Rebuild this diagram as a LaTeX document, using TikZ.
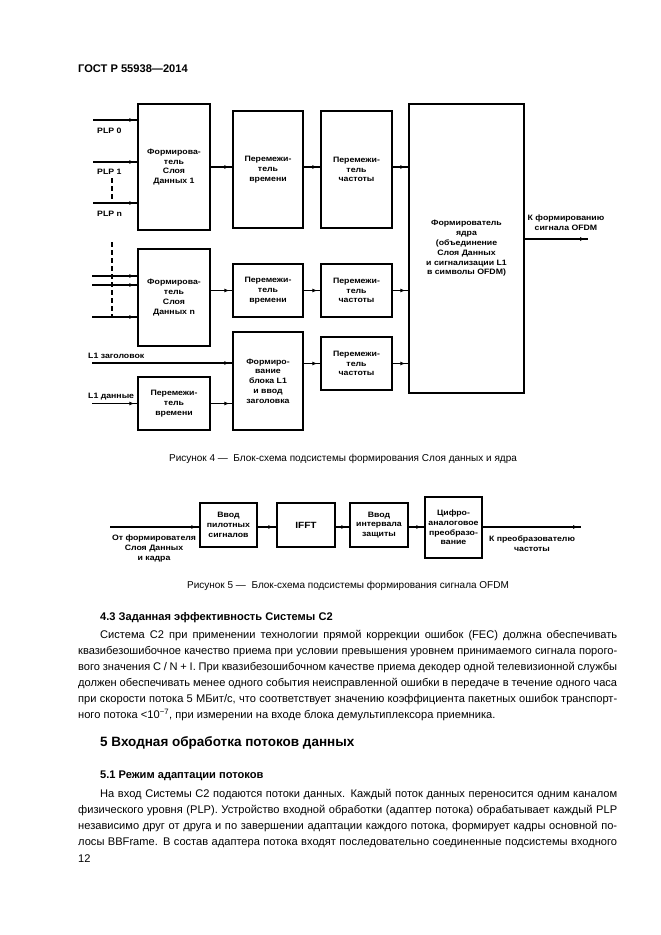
\documentclass[tikz,border=0pt]{standalone}
\usepackage{fontspec}
\setmainfont{Liberation Sans}
\newfontfamily\dg[FakeStretch=1.12]{Liberation Sans}
\usetikzlibrary{arrows.meta,decorations.markings}
\newcommand{\bodyfnt}{\fontsize{11.1}{16}\selectfont}
\newcommand{\jline}[2]{\makebox[#1pt][s]{#2}}
\begin{document}
\begin{tikzpicture}[x=1pt,y=-1pt,
  blk/.style={draw,line width=1.3pt,inner sep=0pt,font=\dg\bfseries\fontsize{7.8}{9.8}\selectfont,align=center},
  lab/.style={font=\dg\bfseries\fontsize{7.8}{10}\selectfont,align=center,inner sep=0pt},
  ar/.style={line width=1.1pt,postaction={decorate},decoration={markings,mark=at position -3pt with {\arrow{Latex[length=5pt,width=4pt]}}}},
  dsh/.style={line width=1.1pt,dash pattern=on 5pt off 3pt},
  txt/.style={anchor=base west,inner sep=0pt,font=\bodyfnt},
]
\useasboundingbox (0,0) rectangle (661,935);
\fill[white] (0,0) rectangle (661,935);

% header
\node[txt,font=\bfseries\fontsize{11.1}{13}\selectfont] (hdr) at (78,72) {ГОСТ Р 55938—2014};

% ---------- Figure 4 ----------
\node[blk,minimum width=72,minimum height=126] (f1) at (174,167) {Формирова-\\тель\\Слоя\\Данных 1};
\node[blk,minimum width=70,minimum height=117] (t1) at (268,169.5) {Перемежи-\\тель\\времени};
\node[blk,minimum width=71,minimum height=117] (q1) at (356.5,169.5) {Перемежи-\\тель\\частоты};
\node[blk,minimum width=115,minimum height=289] (core) at (466.5,248.5) {Формирователь\\ядра\\(объединение\\Слоя Данных\\и сигнализации L1\\в символы OFDM)};
\node[blk,minimum width=72,minimum height=97] (fn) at (174,297.5) {Формирова-\\тель\\Слоя\\Данных n};
\node[blk,minimum width=70,minimum height=53] (t2) at (268,290.5) {Перемежи-\\тель\\времени};
\node[blk,minimum width=71,minimum height=53] (q2) at (356.5,290.5) {Перемежи-\\тель\\частоты};
\node[blk,minimum width=70,minimum height=98] (l1) at (268,381) {Формиро-\\вание\\блока L1\\и ввод\\заголовка};
\node[blk,minimum width=71,minimum height=53] (q3) at (356.5,363.5) {Перемежи-\\тель\\частоты};
\node[blk,minimum width=72,minimum height=53] (t3) at (174,403.5) {Перемежи-\\тель\\времени};

% inputs of f1
\coordinate (p0) at (93,120);
\coordinate (p1) at (93,162);
\coordinate (pn) at (93,203);
\draw[ar] (p0) -- (p0 -| f1.west);
\draw[ar] (p1) -- (p1 -| f1.west);
\draw[ar] (pn) -- (pn -| f1.west);
\node[lab,anchor=west] (lp0) at (97,131) {PLP 0};
\node[lab,anchor=west] (lp1) at (97,172) {PLP 1};
\node[lab,anchor=west] (lpn) at (97,214) {PLP n};
\coordinate (d1a) at (112,178);
\coordinate (d1b) at (112,203);
\draw[dsh] (d1a) -- (d1b);

% inputs of fn
\coordinate (n1) at (92,276);
\coordinate (n2) at (92,285);
\coordinate (n3) at (92,317);
\draw[ar] (n1) -- (n1 -| fn.west);
\draw[ar] (n2) -- (n2 -| fn.west);
\draw[ar] (n3) -- (n3 -| fn.west);
\coordinate (d2a) at (112,242);
\coordinate (d2b) at (112,316);
\draw[dsh] (d2a) -- (d2b);

% chain 1
\coordinate (r1) at (0,167);
\draw[ar] (f1.east |- r1) -- (t1.west |- r1);
\draw[ar] (t1.east |- r1) -- (q1.west |- r1);
\draw[ar] (q1.east |- r1) -- (core.west |- r1);
% chain n
\draw[ar] (t2.west -| fn.east) -- (t2.west);
\draw[ar] (t2.east) -- (q2.west);
\draw[ar] (q2.east) -- (q2.east -| core.west);
% L1
\coordinate (l1h) at (92,363);
\draw[ar] (l1h) -- (l1h -| l1.west);
\node[lab,anchor=west] (ll1h) at (88,356) {L1 заголовок};
\coordinate (l1d) at (92,403.5);
\draw[ar] (l1d) -- (l1d -| t3.west);
\node[lab,anchor=west] (ll1d) at (88,397) {L1 данные};
\draw[ar] (t3.east) -- (t3.east -| l1.west);
\draw[ar] (q3.west -| l1.east) -- (q3.west);
\draw[ar] (q3.east) -- (q3.east -| core.west);
% output
\coordinate (out) at (588,239);
\draw[ar] (core.east |- out) -- (out);
\node[lab] (lout) at (566,223) {К формированию\\сигнала OFDM};

\node[font=\fontsize{10}{12}\selectfont,anchor=base,inner sep=0pt] (cap4) at (343,461) {Рисунок 4 —\ \ Блок-схема подсистемы формирования Слоя данных и ядра};

% ---------- Figure 5 ----------
\coordinate (in5) at (110,527);
\coordinate (out5) at (581,527);
\node[blk,minimum width=57,minimum height=44] (b1) at (228.5,525) {Ввод\\пилотных\\сигналов};
\node[blk,minimum width=58,minimum height=44,font=\dg\bfseries\fontsize{9}{10}\selectfont] (b2) at (306,525) {IFFT};
\node[blk,minimum width=58,minimum height=44] (b3) at (379,525) {Ввод\\интервала\\защиты};
\node[blk,minimum width=57,minimum height=61] (b4) at (453.5,527.5) {Цифро-\\аналоговое\\преобразо-\\вание};
\draw[ar] (in5) -- (in5 -| b1.west);
\draw[ar] (b1.east |- in5) -- (b2.west |- in5);
\draw[ar] (b2.east |- in5) -- (b3.west |- in5);
\draw[ar] (b3.east |- in5) -- (b4.west |- in5);
\draw[ar] (b4.east |- in5) -- (out5);
\node[lab] (lin5) at (154,548.5) {От формирователя\\Слоя Данных\\и кадра};
\node[lab] (lout5) at (532,543.5) {К преобразователю\\частоты};

\node[font=\fontsize{10}{12}\selectfont,anchor=base,inner sep=0pt] (cap5) at (348,588) {Рисунок 5 —\ \ Блок-схема подсистемы формирования сигнала OFDM};

% ---------- Text ----------
\node[txt,font=\bfseries\fontsize{11.1}{13}\selectfont] (h43) at (100,620) {4.3 Заданная эффективность Системы С2};
\node[txt] (a1) at (100,638) {\jline{517}{Система С2 при применении технологии прямой коррекции ошибок (FEC) должна обеспечивать}};
\node[txt] (a2) at (78,654) {\jline{539}{квазибезошибочное качество приема при условии превышения уровнем принимаемого сигнала порого-}};
\node[txt] (a3) at (78,670) {\jline{539}{вого значения C / N + I. При квазибезошибочном качестве приема декодер одной телевизионной службы}};
\node[txt] (a4) at (78,686) {\jline{539}{должен обеспечивать менее одного события неисправленной ошибки в передаче в течение одного часа}};
\node[txt] (a5) at (78,702) {\jline{539}{при скорости потока 5 МБит/с, что соответствует значению коэффициента пакетных ошибок транспорт-}};
\node[txt] (a6) at (78,718) {ного потока <10\textsuperscript{−7}, при измерении на входе блока демультиплексора приемника.};

\node[txt,font=\bfseries\fontsize{13.5}{16}\selectfont] (h5) at (100,746) {5 Входная обработка потоков данных};
\node[txt,font=\bfseries\fontsize{11.1}{13}\selectfont] (h51) at (100,778) {5.1 Режим адаптации потоков};
\node[txt] (c1) at (100,797) {\jline{517}{На вход Системы С2 подаются потоки данных. Каждый поток данных переносится одним каналом}};
\node[txt] (c2) at (78,813) {\jline{539}{физического уровня (PLP). Устройство входной обработки (адаптер потока) обрабатывает каждый PLP}};
\node[txt] (c3) at (78,829) {\jline{539}{независимо друг от друга и по завершении адаптации каждого потока, формирует кадры основной по-}};
\node[txt] (c4) at (78,845) {\jline{539}{лосы BBFrame. В состав адаптера потока входят последовательно соединенные подсистемы входного}};
\node[txt] (pg) at (78,862) {12};
\end{tikzpicture}
\end{document}
